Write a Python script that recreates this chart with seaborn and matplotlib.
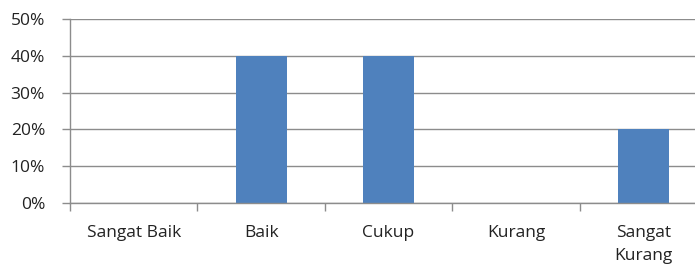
import matplotlib
matplotlib.use("Agg")
import matplotlib.pyplot as plt
import seaborn as sns
import pandas as pd
import numpy as np
from matplotlib.ticker import FixedLocator, PercentFormatter

# data
categories = ["Sangat Baik", "Baik", "Cukup", "Kurang", "Sangat\nKurang"]
values = [0, 40, 40, 0, 20]
yticks = [0, 10, 20, 30, 40, 50]

df = pd.DataFrame({"kategori": categories, "persen": values})

sns.set_style("white")
plt.rcParams["font.family"] = ["Open Sans", "DejaVu Sans"]

fig = plt.figure(figsize=(6.95, 2.69), dpi=100)
# axes extends slightly past the right edge, as in the original
ax = fig.add_axes([70 / 695, 1 - 203 / 269, 637 / 695, 184 / 269])

sns.barplot(data=df, x="kategori", y="persen", color="#4F81BD",
            width=0.4, saturation=1, linewidth=0, ax=ax)

ax.set_xlim(-0.5, len(categories) - 0.5)
ax.set_ylim(0, 50)
ax.set_yticks(yticks)
ax.yaxis.set_major_formatter(PercentFormatter(decimals=0))
ax.grid(axis="y", color="#8c8c8c", linewidth=1)
ax.set_axisbelow(True)

for s in ["top", "right"]:
    ax.spines[s].set_visible(False)
for s in ["left", "bottom"]:
    ax.spines[s].set_color("#8c8c8c")
    ax.spines[s].set_linewidth(1)

ax.tick_params(axis="y", left=True, direction="out", length=6,
               color="#8c8c8c", width=1, pad=12,
               labelsize=12.5, labelcolor="#222222")
ax.tick_params(axis="x", which="major", length=0, pad=16,
               labelsize=12.5, labelcolor="#222222")
ax.xaxis.set_minor_locator(FixedLocator(np.arange(-0.5, len(categories), 1.0)))
ax.tick_params(axis="x", which="minor", bottom=True, direction="out",
               length=6, color="#8c8c8c", width=1)
for lbl in ax.get_xticklabels():
    lbl.set_verticalalignment("top")
    lbl.set_linespacing(1.6)

ax.set_xlabel("")
ax.set_ylabel("")

fig.savefig("out.png", dpi=100)
